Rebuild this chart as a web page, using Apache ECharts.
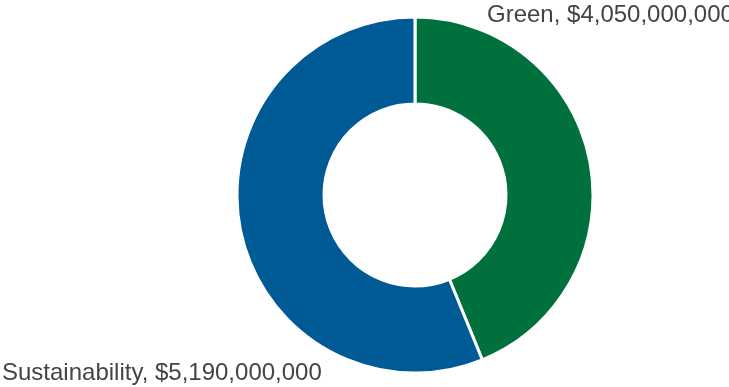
<!DOCTYPE html>
<html><head><meta charset="utf-8">
<script src="https://cdn.jsdelivr.net/npm/echarts@6/dist/echarts.min.js"></script>
<style>html,body{margin:0;padding:0;background:#fff}#c{width:729px;height:387px}</style>
</head><body><div id="c"></div>
<script>
const categories = ["Green", "Sustainability"];
const values = [4050000000, 5190000000];
const colors = ["#00703c", "#005a96"];
const chart = echarts.init(document.getElementById('c'));
const fmt = v => '$' + v.toLocaleString('en-US');
chart.setOption({
  animation: false,
  series: [{
    type: 'pie',
    center: [415, 195],
    radius: [91, 178],
    startAngle: 90,
    clockwise: true,
    itemStyle: { borderColor: '#fff', borderWidth: 3 },
    label: {
      show: true,
      formatter: p => p.name + ', ' + fmt(p.value),
      fontFamily: 'Liberation Sans, Arial, sans-serif',
      fontSize: 24,
      color: '#444',
      overflow: 'none'
    },
    labelLine: { show: false },
    labelLayout: function (p) {
      if (p.dataIndex === 0) return { x: 487, y: 15, align: 'left', verticalAlign: 'middle', width: 500 };
      return { x: 2, y: 373, align: 'left', verticalAlign: 'middle', width: 500 };
    },
    data: categories.map((c, i) => ({ name: c, value: values[i], itemStyle: { color: colors[i] } }))
  }]
});
</script></body></html>
